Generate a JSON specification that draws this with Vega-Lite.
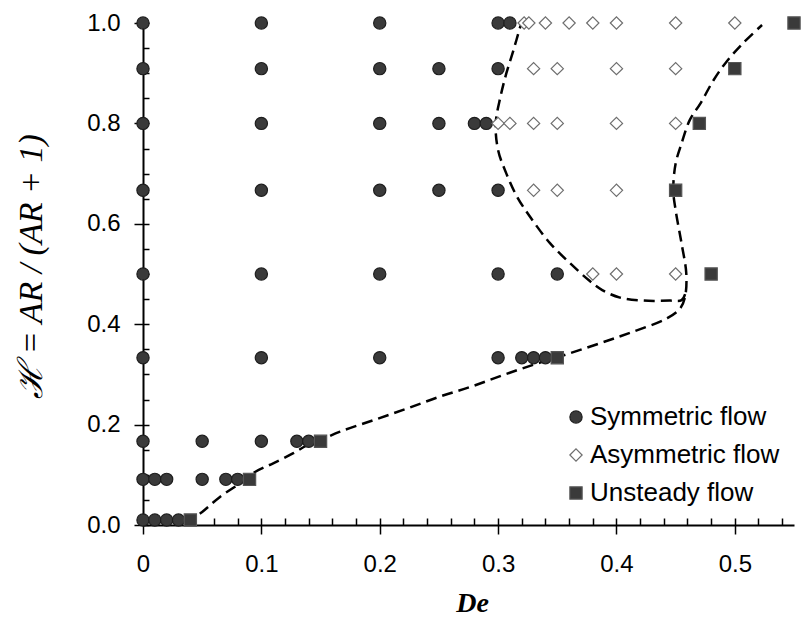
{
  "$schema": "https://vega.github.io/schema/vega-lite/v6.json",
  "width": 651,
  "height": 502,
  "autosize": {"type": "none"},
  "padding": {"left": 143, "top": 23, "right": 7, "bottom": 99},
  "background": "white",
  "config": {
    "view": {"stroke": null},
    "axis": {"grid": false, "domainColor": "black", "tickColor": "black", "labelColor": "black", "titleColor": "black", "labelFont": "Liberation Sans", "labelFontSize": 24, "labelFontWeight": "normal"},
    "legend": {"labelFont": "Liberation Sans", "labelFontSize": 26, "labelColor": "black", "labelLimit": 400}
  },
  "datasets": {
    "points": [
      {"De": 0, "H": 1, "type": "Symmetric flow"},
      {"De": 0.1, "H": 1, "type": "Symmetric flow"},
      {"De": 0.2, "H": 1, "type": "Symmetric flow"},
      {"De": 0.3, "H": 1, "type": "Symmetric flow"},
      {"De": 0.31, "H": 1, "type": "Symmetric flow"},
      {"De": 0.322, "H": 1, "type": "Asymmetric flow"},
      {"De": 0.326, "H": 1, "type": "Asymmetric flow"},
      {"De": 0.34, "H": 1, "type": "Asymmetric flow"},
      {"De": 0.36, "H": 1, "type": "Asymmetric flow"},
      {"De": 0.38, "H": 1, "type": "Asymmetric flow"},
      {"De": 0.4, "H": 1, "type": "Asymmetric flow"},
      {"De": 0.45, "H": 1, "type": "Asymmetric flow"},
      {"De": 0.5, "H": 1, "type": "Asymmetric flow"},
      {"De": 0.55, "H": 1, "type": "Unsteady flow"},
      {"De": 0, "H": 0.9091, "type": "Symmetric flow"},
      {"De": 0.1, "H": 0.9091, "type": "Symmetric flow"},
      {"De": 0.2, "H": 0.9091, "type": "Symmetric flow"},
      {"De": 0.25, "H": 0.9091, "type": "Symmetric flow"},
      {"De": 0.3, "H": 0.9091, "type": "Symmetric flow"},
      {"De": 0.33, "H": 0.9091, "type": "Asymmetric flow"},
      {"De": 0.35, "H": 0.9091, "type": "Asymmetric flow"},
      {"De": 0.4, "H": 0.9091, "type": "Asymmetric flow"},
      {"De": 0.45, "H": 0.9091, "type": "Asymmetric flow"},
      {"De": 0.5, "H": 0.9091, "type": "Unsteady flow"},
      {"De": 0, "H": 0.8, "type": "Symmetric flow"},
      {"De": 0.1, "H": 0.8, "type": "Symmetric flow"},
      {"De": 0.2, "H": 0.8, "type": "Symmetric flow"},
      {"De": 0.25, "H": 0.8, "type": "Symmetric flow"},
      {"De": 0.28, "H": 0.8, "type": "Symmetric flow"},
      {"De": 0.29, "H": 0.8, "type": "Symmetric flow"},
      {"De": 0.3, "H": 0.8, "type": "Asymmetric flow"},
      {"De": 0.31, "H": 0.8, "type": "Asymmetric flow"},
      {"De": 0.33, "H": 0.8, "type": "Asymmetric flow"},
      {"De": 0.35, "H": 0.8, "type": "Asymmetric flow"},
      {"De": 0.4, "H": 0.8, "type": "Asymmetric flow"},
      {"De": 0.45, "H": 0.8, "type": "Asymmetric flow"},
      {"De": 0.47, "H": 0.8, "type": "Unsteady flow"},
      {"De": 0, "H": 0.6667, "type": "Symmetric flow"},
      {"De": 0.1, "H": 0.6667, "type": "Symmetric flow"},
      {"De": 0.2, "H": 0.6667, "type": "Symmetric flow"},
      {"De": 0.25, "H": 0.6667, "type": "Symmetric flow"},
      {"De": 0.3, "H": 0.6667, "type": "Symmetric flow"},
      {"De": 0.33, "H": 0.6667, "type": "Asymmetric flow"},
      {"De": 0.35, "H": 0.6667, "type": "Asymmetric flow"},
      {"De": 0.4, "H": 0.6667, "type": "Asymmetric flow"},
      {"De": 0.45, "H": 0.6667, "type": "Unsteady flow"},
      {"De": 0, "H": 0.5, "type": "Symmetric flow"},
      {"De": 0.1, "H": 0.5, "type": "Symmetric flow"},
      {"De": 0.2, "H": 0.5, "type": "Symmetric flow"},
      {"De": 0.3, "H": 0.5, "type": "Symmetric flow"},
      {"De": 0.35, "H": 0.5, "type": "Symmetric flow"},
      {"De": 0.38, "H": 0.5, "type": "Asymmetric flow"},
      {"De": 0.4, "H": 0.5, "type": "Asymmetric flow"},
      {"De": 0.45, "H": 0.5, "type": "Asymmetric flow"},
      {"De": 0.48, "H": 0.5, "type": "Unsteady flow"},
      {"De": 0, "H": 0.3333, "type": "Symmetric flow"},
      {"De": 0.1, "H": 0.3333, "type": "Symmetric flow"},
      {"De": 0.2, "H": 0.3333, "type": "Symmetric flow"},
      {"De": 0.3, "H": 0.3333, "type": "Symmetric flow"},
      {"De": 0.32, "H": 0.3333, "type": "Symmetric flow"},
      {"De": 0.33, "H": 0.3333, "type": "Symmetric flow"},
      {"De": 0.34, "H": 0.3333, "type": "Symmetric flow"},
      {"De": 0.35, "H": 0.3333, "type": "Unsteady flow"},
      {"De": 0, "H": 0.1667, "type": "Symmetric flow"},
      {"De": 0.05, "H": 0.1667, "type": "Symmetric flow"},
      {"De": 0.1, "H": 0.1667, "type": "Symmetric flow"},
      {"De": 0.13, "H": 0.1667, "type": "Symmetric flow"},
      {"De": 0.14, "H": 0.1667, "type": "Symmetric flow"},
      {"De": 0.15, "H": 0.1667, "type": "Unsteady flow"},
      {"De": 0, "H": 0.0909, "type": "Symmetric flow"},
      {"De": 0.01, "H": 0.0909, "type": "Symmetric flow"},
      {"De": 0.02, "H": 0.0909, "type": "Symmetric flow"},
      {"De": 0.05, "H": 0.0909, "type": "Symmetric flow"},
      {"De": 0.07, "H": 0.0909, "type": "Symmetric flow"},
      {"De": 0.08, "H": 0.0909, "type": "Symmetric flow"},
      {"De": 0.09, "H": 0.0909, "type": "Unsteady flow"},
      {"De": 0, "H": 0.0099, "type": "Symmetric flow"},
      {"De": 0.01, "H": 0.0099, "type": "Symmetric flow"},
      {"De": 0.02, "H": 0.0099, "type": "Symmetric flow"},
      {"De": 0.03, "H": 0.0099, "type": "Symmetric flow"},
      {"De": 0.04, "H": 0.0099, "type": "Unsteady flow"}
    ],
    "curves": [
      {"curve": "A", "i": 1, "De": 0.036, "H": 0.003},
      {"curve": "A", "i": 2, "De": 0.05, "H": 0.026},
      {"curve": "A", "i": 3, "De": 0.065, "H": 0.056},
      {"curve": "A", "i": 4, "De": 0.082, "H": 0.083},
      {"curve": "A", "i": 5, "De": 0.095, "H": 0.106},
      {"curve": "A", "i": 6, "De": 0.11, "H": 0.123},
      {"curve": "A", "i": 7, "De": 0.127, "H": 0.143},
      {"curve": "A", "i": 8, "De": 0.138, "H": 0.158},
      {"curve": "A", "i": 9, "De": 0.15, "H": 0.169},
      {"curve": "A", "i": 10, "De": 0.1665, "H": 0.186},
      {"curve": "A", "i": 11, "De": 0.195, "H": 0.209},
      {"curve": "A", "i": 12, "De": 0.223, "H": 0.232},
      {"curve": "A", "i": 13, "De": 0.251, "H": 0.256},
      {"curve": "A", "i": 14, "De": 0.279, "H": 0.277},
      {"curve": "A", "i": 15, "De": 0.307, "H": 0.301},
      {"curve": "A", "i": 16, "De": 0.336, "H": 0.324},
      {"curve": "A", "i": 17, "De": 0.35, "H": 0.334},
      {"curve": "A", "i": 18, "De": 0.386, "H": 0.362},
      {"curve": "A", "i": 19, "De": 0.414, "H": 0.385},
      {"curve": "A", "i": 20, "De": 0.443, "H": 0.412},
      {"curve": "A", "i": 21, "De": 0.454, "H": 0.432},
      {"curve": "A", "i": 22, "De": 0.458, "H": 0.455},
      {"curve": "A", "i": 23, "De": 0.459, "H": 0.501},
      {"curve": "A", "i": 24, "De": 0.455, "H": 0.561},
      {"curve": "A", "i": 25, "De": 0.45, "H": 0.627},
      {"curve": "A", "i": 26, "De": 0.448, "H": 0.667},
      {"curve": "A", "i": 27, "De": 0.45, "H": 0.72},
      {"curve": "A", "i": 28, "De": 0.455, "H": 0.76},
      {"curve": "A", "i": 29, "De": 0.462, "H": 0.807},
      {"curve": "A", "i": 30, "De": 0.471, "H": 0.84},
      {"curve": "A", "i": 31, "De": 0.482, "H": 0.886},
      {"curve": "A", "i": 32, "De": 0.493, "H": 0.923},
      {"curve": "A", "i": 33, "De": 0.507, "H": 0.96},
      {"curve": "A", "i": 34, "De": 0.523, "H": 0.996},
      {"curve": "B", "i": 1, "De": 0.458, "H": 0.46},
      {"curve": "B", "i": 2, "De": 0.455, "H": 0.448},
      {"curve": "B", "i": 3, "De": 0.445, "H": 0.447},
      {"curve": "B", "i": 4, "De": 0.423, "H": 0.447},
      {"curve": "B", "i": 5, "De": 0.403, "H": 0.453},
      {"curve": "B", "i": 6, "De": 0.388, "H": 0.468},
      {"curve": "B", "i": 7, "De": 0.377, "H": 0.487},
      {"curve": "B", "i": 8, "De": 0.361, "H": 0.521},
      {"curve": "B", "i": 9, "De": 0.344, "H": 0.561},
      {"curve": "B", "i": 10, "De": 0.327, "H": 0.614},
      {"curve": "B", "i": 11, "De": 0.316, "H": 0.654},
      {"curve": "B", "i": 12, "De": 0.307, "H": 0.7},
      {"curve": "B", "i": 13, "De": 0.3, "H": 0.747},
      {"curve": "B", "i": 14, "De": 0.298, "H": 0.8},
      {"curve": "B", "i": 15, "De": 0.302, "H": 0.853},
      {"curve": "B", "i": 16, "De": 0.307, "H": 0.9},
      {"curve": "B", "i": 17, "De": 0.313, "H": 0.946},
      {"curve": "B", "i": 18, "De": 0.319, "H": 0.995}
    ]
  },
  "resolve": {"axis": {"x": "independent", "y": "independent"}},
  "layer": [
    {
      "data": {"name": "curves"},
      "mark": {"type": "line", "color": "black", "strokeWidth": 2.5, "strokeDash": [11, 6], "interpolate": "catmull-rom", "clip": true},
      "encoding": {
        "x": {"field": "De", "type": "quantitative", "scale": {"domain": [0, 0.55], "nice": false, "zero": false},
          "axis": {"orient": "top", "offset": -502, "values": [0, 0.02, 0.04, 0.06, 0.08, 0.1, 0.12, 0.14, 0.16, 0.18, 0.2, 0.22, 0.24, 0.26, 0.28, 0.3, 0.32, 0.34, 0.36, 0.38, 0.4, 0.42, 0.44, 0.46, 0.48, 0.5, 0.52, 0.54], "ticks": true, "tickSize": 7, "tickWidth": 1.5, "tickColor": "black", "tickOpacity": 1, "labels": false, "domain": false, "title": null}},
        "y": {"field": "H", "type": "quantitative", "scale": {"domain": [0, 1], "nice": false},
          "axis": {"orient": "right", "offset": -651, "values": [0, 0.05, 0.1, 0.15, 0.2, 0.25, 0.3, 0.35, 0.4, 0.45, 0.5, 0.55, 0.6, 0.65, 0.7, 0.75, 0.8, 0.85, 0.9, 0.95, 1.0], "ticks": true, "tickSize": 6, "tickWidth": 1.5, "tickColor": "black", "tickOpacity": 1, "labels": false, "domain": false, "title": null}},
        "detail": {"field": "curve"},
        "order": {"field": "i", "type": "quantitative"}
      }
    },
    {
      "mark": {"type": "rule", "color": "#333333", "strokeWidth": 1.5},
      "encoding": {
        "x": {"datum": 0, "type": "quantitative", "axis": null},
        "x2": {"datum": 0.55},
        "y": {"datum": 1, "type": "quantitative", "axis": null}
      }
    },
    {
      "data": {"name": "points"},
      "mark": {"type": "point", "opacity": 1, "strokeWidth": 1.2, "size": 150},
      "encoding": {
        "x": {"field": "De", "type": "quantitative",
          "axis": {"orient": "bottom", "values": [0, 0.1, 0.2, 0.3, 0.4, 0.5], "format": ".1~f", "labelFlush": false, "tickSize": 9, "tickWidth": 1.5, "domainWidth": 2, "labelPadding": 18, "title": "De", "titleFont": "Liberation Serif", "titleFontSize": 28, "titleFontWeight": "bold", "titleFontStyle": "italic", "titleX": 329, "titleY": 86, "titleBaseline": "alphabetic", "titleAnchor": null, "titleAlign": "center"}},
        "y": {"field": "H", "type": "quantitative",
          "axis": {"orient": "left", "values": [0, 0.2, 0.4, 0.6, 0.8, 1.0], "format": ".1f", "labelFlush": false, "tickSize": 9, "tickWidth": 1.5, "domainWidth": 2, "labelPadding": 14, "title": "ℋ = AR / (AR + 1)", "titleFont": "Liberation Serif", "titleFontSize": 34, "titleFontWeight": "normal", "titleFontStyle": "italic", "titleAngle": -90, "titleX": -112, "titleY": 243, "titleAlign": "center", "titleBaseline": "middle"}},
        "shape": {"field": "type", "type": "nominal", "scale": {"domain": ["Symmetric flow", "Asymmetric flow", "Unsteady flow"], "range": ["circle", "diamond", "square"]},
          "legend": {"title": null, "orient": "none", "legendX": 420, "legendY": 381, "padding": 0, "rowPadding": 12, "labelOffset": 1, "symbolSize": 150, "symbolStrokeWidth": 1.2}},
        "fill": {"field": "type", "type": "nominal", "scale": {"domain": ["Symmetric flow", "Asymmetric flow", "Unsteady flow"], "range": ["#3a3a3a", "#ffffff", "#3a3a3a"]},
          "legend": {"title": null, "orient": "none", "legendX": 420, "legendY": 381, "padding": 0, "rowPadding": 12, "labelOffset": 1, "symbolSize": 150, "symbolStrokeWidth": 1.2}},
        "stroke": {"field": "type", "type": "nominal", "scale": {"domain": ["Symmetric flow", "Asymmetric flow", "Unsteady flow"], "range": ["#1e1e1e", "#6e6e6e", "#555555"]},
          "legend": {"title": null, "orient": "none", "legendX": 420, "legendY": 381, "padding": 0, "rowPadding": 12, "labelOffset": 1, "symbolSize": 150, "symbolStrokeWidth": 1.2}}
      }
    }
  ]
}
